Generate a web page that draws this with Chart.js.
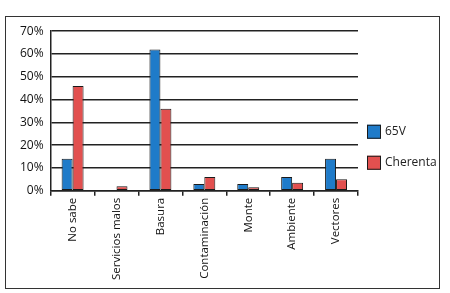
<!DOCTYPE html>
<html>
<head>
<meta charset="utf-8">
<script src="https://cdn.jsdelivr.net/npm/chart.js@4"></script>
<style>
  html, body { margin: 0; padding: 0; background: #fff; }
  #box {
    position: absolute; left: 5px; top: 16px; width: 435px; height: 273px;
    border: 1.5px solid #333; box-sizing: border-box;
  }
  #wrap { position: absolute; left: 0; top: 0; width: 432px; height: 270px; }
</style>
</head>
<body>
<div id="box"><div id="wrap"><canvas id="bar"></canvas></div></div>
<script>
// categories and values (percent)
const categories = ['No sabe', 'Servicios malos', 'Basura', 'Contaminación', 'Monte', 'Ambiente', 'Vectores'];
const v65 = [14, 0, 62, 3, 3, 6, 14];
const cherenta = [46, 2, 36, 6, 1.5, 3.5, 5];
const yTicks = [0, 10, 20, 30, 40, 50, 60, 70];

const font = { family: 'Open Sans', size: 11.5 };

// legend on the right, drawn next to the plot like the original
const sideLegend = {
    id: 'sideLegend',
    afterDraw(chart) {
        const ctx = chart.ctx;
        const area = chart.chartArea;
        const x = area.right + 9;
        ctx.save();
        ctx.font = '12px "Open Sans"';
        ctx.textBaseline = 'middle';
        chart.data.datasets.forEach((ds, i) => {
            const cy = area.bottom - 59 + i * 31;
            ctx.fillStyle = ds.backgroundColor;
            ctx.fillRect(x, cy - 7, 14, 14);
            ctx.strokeStyle = '#1a1a1a';
            ctx.lineWidth = 1;
            ctx.strokeRect(x + 0.5, cy - 6.5, 13, 13);
            ctx.fillStyle = '#222';
            ctx.fillText(ds.label, x + 18, cy);
        });
        ctx.restore();
    },
};

const Bar = document.getElementById('bar').getContext('2d');
const myBarChart = new Chart(Bar, {
    type: 'bar',
    data: {
        labels: categories,
        datasets: [
            {
                label: '65V',
                data: v65,
                backgroundColor: '#1f7bc9',
                borderColor: '#1a1a1a',
                borderWidth: 1,
                borderSkipped: false,
            },
            {
                label: 'Cherenta',
                data: cherenta,
                backgroundColor: '#e2504f',
                borderColor: '#1a1a1a',
                borderWidth: 1,
                borderSkipped: false,
            },
        ],
    },
    plugins: [sideLegend],
    options: {
        responsive: true,
        maintainAspectRatio: false,
        animation: false,
        categoryPercentage: 0.5,
        barPercentage: 1,
        layout: { padding: { top: 11, left: 7, right: 80, bottom: 5 } },
        plugins: {
            tooltip: { enabled: false },
            legend: { display: false },
        },
        scales: {
            x: {
                border: { color: '#222', width: 1.5 },
                grid: {
                    drawOnChartArea: false,
                    offset: true,
                    tickLength: 5,
                    color: '#222',
                    lineWidth: 1.5,
                },
                ticks: {
                    color: '#111',
                    font: font,
                    minRotation: 90,
                    maxRotation: 90,
                    autoSkip: false,
                    padding: 2,
                },
            },
            y: {
                min: 0,
                max: 70,
                afterBuildTicks: (axis) => {
                    axis.ticks = yTicks.map((v) => ({ value: v }));
                },
                border: { color: '#222', width: 1.5 },
                grid: {
                    color: '#222',
                    lineWidth: 1.5,
                    drawTicks: false,
                },
                ticks: {
                    color: '#111',
                    font: { family: 'Open Sans', size: 12 },
                    padding: 7,
                    callback: (v) => v + '%',
                },
            },
        },
    },
});
</script>
</body>
</html>
